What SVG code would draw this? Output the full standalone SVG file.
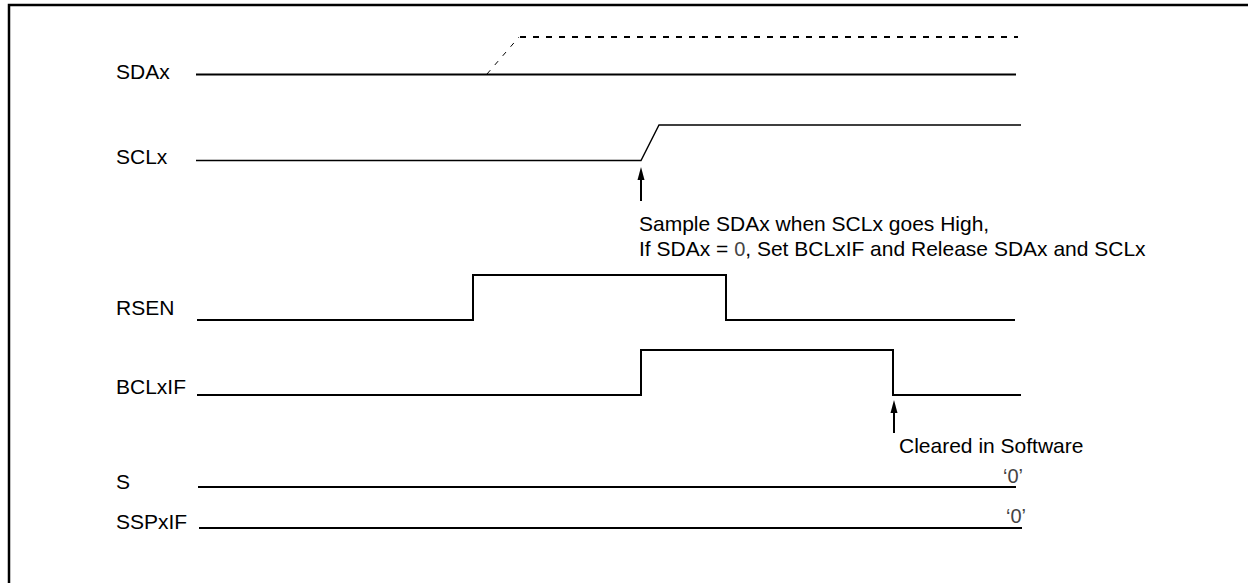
<svg xmlns="http://www.w3.org/2000/svg" width="1248" height="583" viewBox="0 0 1248 583">
<defs>
<style>
.lbl{font-family:"Liberation Sans",Arial,sans-serif;font-size:21px;fill:#000}
.zero{font-family:"Liberation Sans Narrow","Liberation Sans",Arial,sans-serif;font-size:20px;fill:#444}
.sig{fill:none;stroke:#000;stroke-width:2}
.thin{fill:none;stroke:#000;stroke-width:1.4}
.dash{fill:none;stroke:#000;stroke-width:2;stroke-dasharray:6,7}
.arr{stroke:#000;stroke-width:2}
</style>
</defs>
<rect width="1248" height="583" fill="#fff"/>
<path d="M9,583 V5 H1248" fill="none" stroke="#000" stroke-width="2.5"/>

<g id="sdax">
<text class="lbl" x="116" y="79">SDAx</text>
<line class="sig" x1="196" y1="74.5" x2="1016" y2="74.5"/>
<path d="M487,74 L519,37" fill="none" stroke="#000" stroke-width="1" stroke-dasharray="5,7"/>
<line class="dash" x1="520" y1="37" x2="1018" y2="37"/>
</g>

<g id="sclx">
<text class="lbl" x="116" y="164">SCLx</text>
<path class="thin" d="M196,160.5 H641 L659,125 H1021"/>
</g>

<g id="rsen">
<text class="lbl" x="116" y="315">RSEN</text>
<path class="sig" d="M197,320 H473 V275 H726 V320 H1015"/>
</g>

<g id="bclxif">
<text class="lbl" x="116" y="394">BCLxIF</text>
<path class="sig" d="M197,395 H641 V350 H893 V395 H1021"/>
</g>

<g id="s">
<text class="lbl" x="116" y="489">S</text>
<line class="sig" x1="198" y1="487" x2="1016" y2="487"/>
<text class="zero" x="1003" y="483">‘0’</text>
</g>

<g id="sspxif">
<text class="lbl" x="116" y="529">SSPxIF</text>
<line class="sig" x1="199" y1="528" x2="1022" y2="528"/>
<text class="zero" x="1006" y="523">‘0’</text>
</g>

<g id="connectors">
<line class="arr" x1="641" y1="201" x2="641" y2="178"/>
<path d="M641,167 L637.5,180 L644.5,180 Z" fill="#000"/>
<line class="arr" x1="894" y1="433" x2="894" y2="411"/>
<path d="M894,400 L890.5,413 L897.5,413 Z" fill="#000"/>
</g>

<g id="note1">
<text class="lbl" x="639" y="231">Sample SDAx when SCLx goes High,</text>
<text class="lbl" x="639" y="256">If SDAx = <tspan class="zero">0</tspan>, Set BCLxIF and Release SDAx and SCLx</text>
</g>
<g id="note2">
<text class="lbl" x="899" y="453">Cleared in Software</text>
</g>
</svg>
